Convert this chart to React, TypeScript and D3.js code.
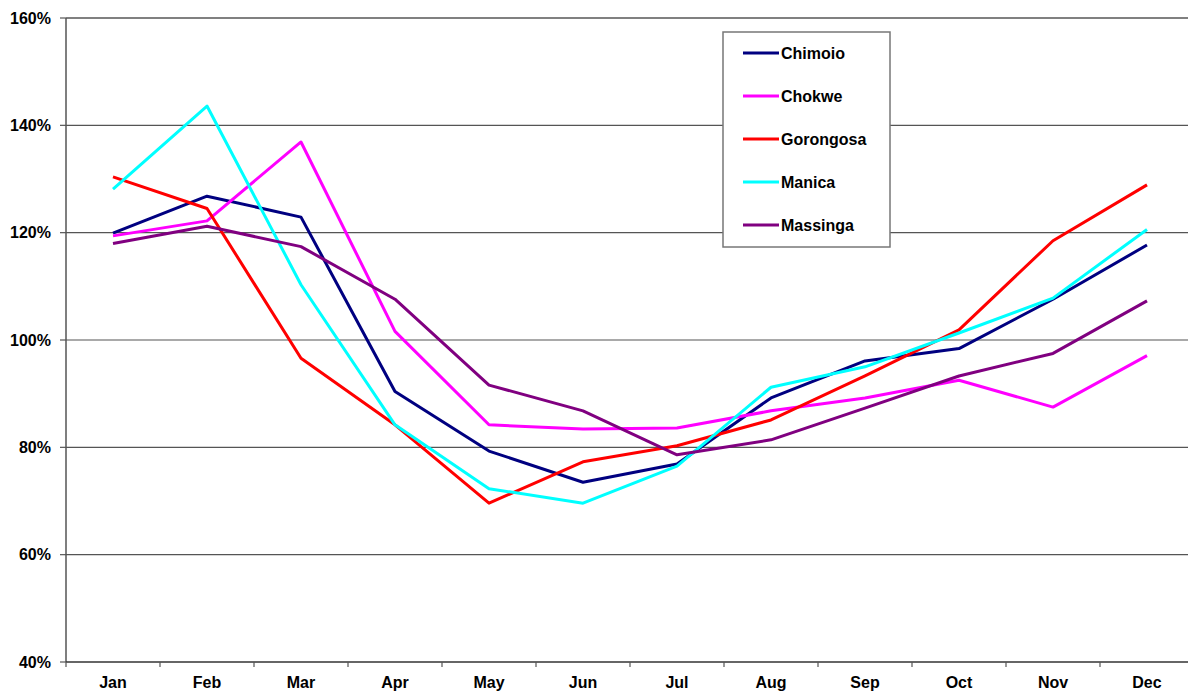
import React from "react";
import * as d3 from "d3";

const months = ["Jan", "Feb", "Mar", "Apr", "May", "Jun", "Jul", "Aug", "Sep", "Oct", "Nov", "Dec"];
const seriesNames = ["Chimoio", "Chokwe", "Gorongosa", "Manica", "Massinga"];
const seriesColors = ["#000080", "#FF00FF", "#FF0000", "#00FFFF", "#800080"];
const chimoio = [119.9, 126.8, 122.9, 90.4, 79.3, 73.5, 76.9, 89.2, 96.1, 98.4, 107.6, 117.7];
const chokwe = [119.4, 122.2, 136.9, 101.6, 84.2, 83.4, 83.6, 86.8, 89.2, 92.5, 87.5, 97.1];
const gorongosa = [130.4, 124.5, 96.6, 84.2, 69.6, 77.3, 80.3, 85.1, 93.3, 101.9, 118.5, 128.9];
const manica = [128.1, 143.6, 110.3, 84.2, 72.3, 69.6, 76.5, 91.2, 95.0, 101.3, 107.8, 120.6];
const massinga = [118.0, 121.2, 117.4, 107.6, 91.6, 86.8, 78.6, 81.4, 87.3, 93.3, 97.5, 107.3];
const allSeries = [chimoio, chokwe, gorongosa, manica, massinga];
const yTicks = [40, 60, 80, 100, 120, 140, 160];

export default function App() {
  const W = 1188, H = 693;
  const left = 66, top = 18, bottom = 662;
  const right = left + 12 * 94;
  const x = d3.scaleBand<string>().domain(months).range([left, right]);
  const y = d3.scaleLinear().domain([40, 160]).range([bottom, top]);
  const line = d3
    .line<number>()
    .x((_, i) => (x(months[i]) as number) + x.bandwidth() / 2)
    .y((d) => y(d));
  const font = "'Liberation Sans', Arial, sans-serif";
  const legX = 723, legY = 32, legW = 167, legH = 215;
  return (
    <svg width={W} height={H} style={{ position: "absolute", left: 0, top: 0, background: "#fff" }} fontFamily={font}>
      <rect x={0} y={0} width={W} height={H} fill="#fff" />
      {yTicks.map((t) => (
        <g key={t}>
          {t > 40 && (
            <line x1={left} x2={right} y1={y(t)} y2={y(t)} stroke={t === 160 ? "#808080" : "#555"} strokeWidth={t === 160 ? 2 : 1.2} />
          )}
          <line x1={left - 6} x2={left} y1={y(t)} y2={y(t)} stroke="#555" strokeWidth={1.2} />
          <text x={51} y={y(t)} dy="0.36em" textAnchor="end" fontSize={16} fontWeight="bold" fill="#000">
            {t}%
          </text>
        </g>
      ))}
      <line x1={left} x2={left} y1={top} y2={bottom} stroke="#555" strokeWidth={1.5} />
      <line x1={left} x2={right} y1={bottom} y2={bottom} stroke="#333" strokeWidth={1.5} />
      {d3.range(13).map((i) => (
        <line key={i} x1={left + i * x.bandwidth()} x2={left + i * x.bandwidth()} y1={bottom} y2={bottom + 5} stroke="#555" strokeWidth={1.2} />
      ))}
      {months.map((m) => (
        <text key={m} x={(x(m) as number) + x.bandwidth() / 2} y={682} dy="0.36em" textAnchor="middle" fontSize={16} fontWeight="bold" fill="#000">
          {m}
        </text>
      ))}
      {allSeries.map((s, i) => (
        <path key={i} d={line(s) as string} fill="none" stroke={seriesColors[i]} strokeWidth={3} strokeLinejoin="round" />
      ))}
      <rect x={legX} y={legY} width={legW} height={legH} fill="#fff" stroke="#777" strokeWidth={1.5} />
      {seriesNames.map((n, i) => {
        const ly = 53 + i * 43;
        return (
          <g key={n}>
            <line x1={743} x2={779} y1={ly} y2={ly} stroke={seriesColors[i]} strokeWidth={3} />
            <text x={781} y={ly} dy="0.36em" fontSize={16} fontWeight="bold" fill="#000">
              {n}
            </text>
          </g>
        );
      })}
    </svg>
  );
}
